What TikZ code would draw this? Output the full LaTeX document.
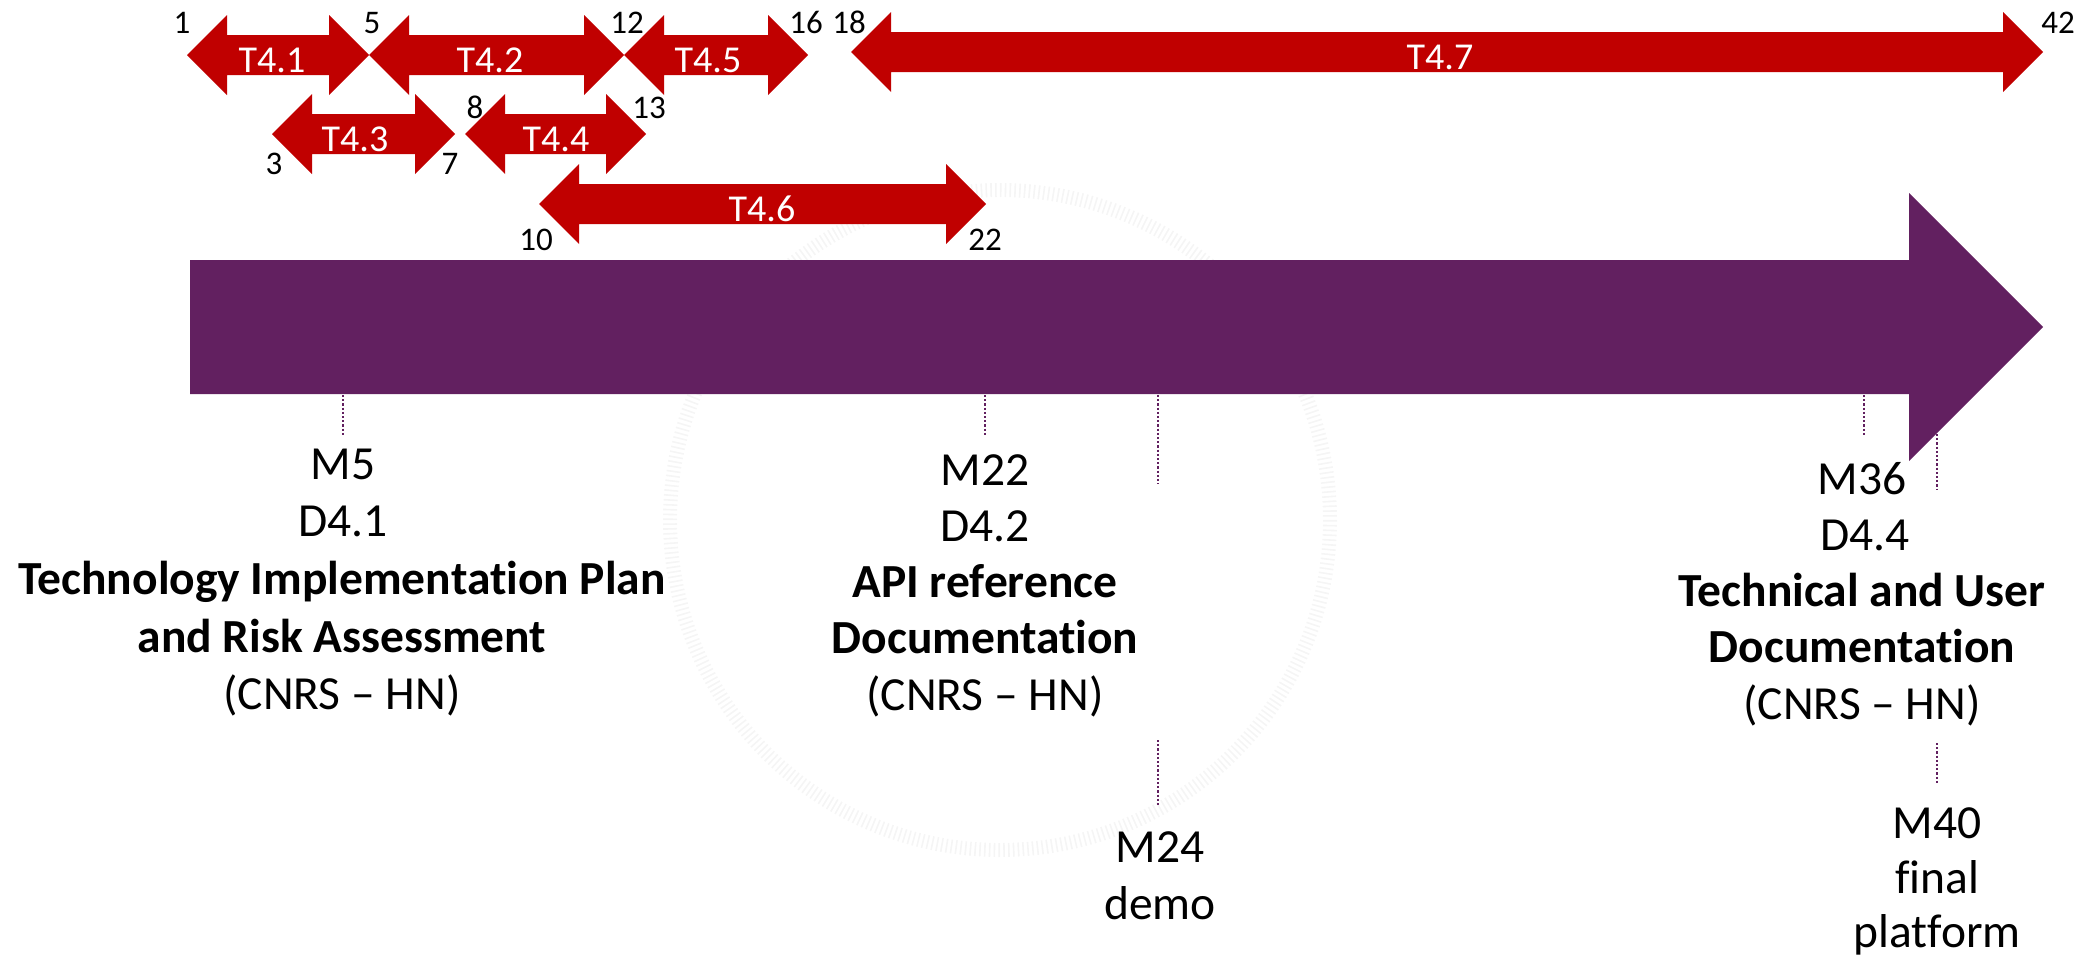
\documentclass[tikz,border=0pt]{standalone}
\usepackage{fontspec}
\setmainfont{Carlito}[Ligatures=NoCommon]
\definecolor{taskred}{RGB}{192,0,0}
\definecolor{tlpurple}{RGB}{98,32,96}
\newcommand{\taskarrow}[6]{% #1 node name, #2 left x, #3 right x, #4 centre y, #5 label x, #6 label
  \fill[taskred] (#2,#4) -- (#2+40,#4-40) -- (#2+40,#4-20) -- (#3-40,#4-20) -- (#3-40,#4-40)
    -- (#3,#4) -- (#3-40,#4+40) -- (#3-40,#4+20) -- (#2+40,#4+20) -- (#2+40,#4+40) -- cycle;
  \node[tlab] (#1) at (#5,#4+17) {#6};
}
\begin{document}
\begin{tikzpicture}[x=1pt,y=-1pt,
  txt/.style={font=\fontsize{47.5}{57}\selectfont, anchor=base, inner sep=0pt},
  btxt/.style={font=\fontsize{47.5}{57}\selectfont\bfseries, anchor=base, inner sep=0pt},
  num/.style={font=\fontsize{33}{39}\selectfont, anchor=base, inner sep=0pt},
  tlab/.style={font=\fontsize{38}{45}\selectfont, text=white, anchor=base, inner sep=0pt},
  msline/.style={draw=tlpurple, line width=2.5pt, dash pattern=on 2.2pt off 2pt},
  wmark/.style={draw=black!4, line width=14pt, dash pattern=on 1.6pt off 3.2pt}
]
\useasboundingbox (0,0) rectangle (2087,954);

% faint watermark ring
\draw[wmark] (1000,520) circle (330);

% timeline arrow
\fill[tlpurple] (190,260) -- (1909,260) -- (1909,193) -- (2043,327) -- (1909,461) -- (1909,394) -- (190,394) -- cycle;

% task arrows
\taskarrow{t41}{187}{369}{55}{272}{T4.1}
\taskarrow{t42}{369}{624}{55}{490}{T4.2}
\taskarrow{t45}{624}{808}{55}{708}{T4.5}
\taskarrow{t43}{272}{455}{134}{355}{T4.3}
\taskarrow{t44}{465}{646}{134}{556}{T4.4}
\taskarrow{t46}{539}{986}{204}{762}{T4.6}
\taskarrow{t47}{851}{2043}{52}{1440}{T4.7}

% month numbers
\node[num] (n1)  at (182,33) {1};
\node[num] (n5)  at (372,33) {5};
\node[num] (n12) at (627,33) {12};
\node[num] (n16) at (806,33) {16};
\node[num] (n18) at (849,33) {18};
\node[num] (n42) at (2058,33) {42};
\node[num] (n8)  at (475,118) {8};
\node[num] (n13) at (649,118) {13};
\node[num] (n3)  at (274,174) {3};
\node[num] (n7)  at (450,174) {7};
\node[num] (n10) at (536,250) {10};
\node[num] (n22) at (985,250) {22};

% milestone ticks
\coordinate (m5a) at (343,395);  \coordinate (m5b) at (343,436);
\coordinate (m22a) at (985,395); \coordinate (m22b) at (985,435);
\coordinate (m24a) at (1158,395); \coordinate (m24b) at (1158,484);
\coordinate (m24c) at (1158,740); \coordinate (m24d) at (1158,806);
\coordinate (m36a) at (1864,395); \coordinate (m36b) at (1864,436);
\coordinate (m40a) at (1937,434); \coordinate (m40b) at (1937,490);
\coordinate (m40c) at (1937,743); \coordinate (m40d) at (1937,783);
\draw[msline] (m5a) -- (m5b);
\draw[msline] (m22a) -- (m22b);
\draw[msline] (m24a) -- (m24b);
\draw[msline] (m24c) -- (m24d);
\draw[msline] (m36a) -- (m36b);
\draw[msline] (m40a) -- (m40b);
\draw[msline] (m40c) -- (m40d);

% M5 block
\node[txt]  (m5)   at (343,479) {M5};
\node[txt]  (d41)  at (343,536) {D4.1};
\node[btxt] (d41a) at (342,594) {Technology Implementation Plan};
\node[btxt] (d41b) at (342,652) {and Risk Assessment};
\node[txt]  (d41c) at (342,709) {(CNRS – HN)};

% M22 block
\node[txt]  (m22)  at (985,485) {M22};
\node[txt]  (d42)  at (985,541) {D4.2};
\node[btxt] (d42a) at (985,597) {API reference};
\node[btxt] (d42b) at (985,653) {Documentation};
\node[txt]  (d42c) at (985,710) {(CNRS – HN)};

% M24
\node[txt] (m24)  at (1160,862) {M24};
\node[txt] (demo) at (1160,919) {demo};

% M36 block
\node[txt]  (m36)  at (1862,494) {M36};
\node[txt]  (d44)  at (1865,550) {D4.4};
\node[btxt] (d44a) at (1862,606) {Technical and User};
\node[btxt] (d44b) at (1862,662) {Documentation};
\node[txt]  (d44c) at (1862,719) {(CNRS – HN)};

% M40
\node[txt] (m40)  at (1937,838) {M40};
\node[txt] (fin)  at (1937,893) {final};
\node[txt] (plat) at (1937,947) {platform};
\end{tikzpicture}
\end{document}
